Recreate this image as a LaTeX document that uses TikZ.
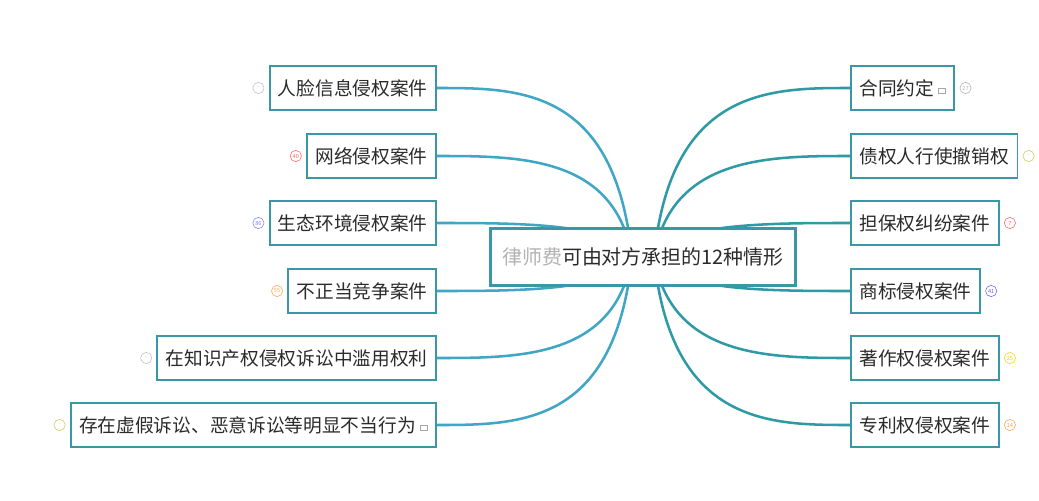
\documentclass[tikz,border=0pt]{standalone}
\usepackage{fontspec}
\setmainfont{Noto Sans CJK SC}
\usetikzlibrary{positioning}

\definecolor{boxc}{HTML}{3A97A6}
\definecolor{lline}{HTML}{3FA6C6}
\definecolor{rline}{HTML}{2E9AA6}
\definecolor{txt}{HTML}{2B2B2B}

\tikzset{
  topic/.style={draw=boxc, line width=1.4pt, fill=white, text=txt, font=\fontsize{13.3}{15}\selectfont,
    minimum height=31pt, inner xsep=6pt},
  center/.style={topic, line width=2.2pt, minimum height=41pt, inner xsep=8pt, font=\fontsize{14.2}{16}\selectfont},
  badge/.style={circle, draw=#1, text=#1, inner sep=0pt, minimum size=8pt,
    font=\fontsize{4}{4}\selectfont},
  branch/.style={line width=1.8pt, #1}
}
\newcommand{\noteicon}{\tikz[baseline=-1pt]\draw[gray!70, line width=0.4pt] (0,0) rectangle (5pt,4pt);}

\begin{document}
\begin{tikzpicture}[x=0.025cm, y=-0.025cm]
\useasboundingbox (0,0) rectangle (1039,500);
\fill[white] (0,0) rectangle (1039,500);

% branches
\foreach \y in {88,156,223,291,358,425}
  \draw[branch=lline] (632,257) .. controls (615,\y) and (520,\y) .. (437,\y);
\foreach \y in {88,156,223,291,358,425}
  \draw[branch=rline] (654,257) .. controls (671,\y) and (770,\y) .. (850,\y);

\node[center] (root) at (643,257) {{\color{gray!60}律师费}可由对方承担的12种情形};

% left side
\node[topic, anchor=east] (l1) at (437,88) {人脸信息侵权案件};
\node[topic, anchor=east] (l2) at (437,156) {网络侵权案件};
\node[topic, anchor=east] (l3) at (437,223) {生态环境侵权案件};
\node[topic, anchor=east] (l4) at (437,291) {不正当竞争案件};
\node[topic, anchor=east] (l5) at (437,358) {在知识产权侵权诉讼中滥用权利};
\node[topic, anchor=east] (l6) at (437,425) {存在虚假诉讼、恶意诉讼等明显不当行为 \noteicon};
\node[badge=gray!50, left=3pt of l1] (b1) {-};
\node[badge=red!60, left=3pt of l2] (b2) {40};
\node[badge=blue!50, left=3pt of l3] (b3) {86};
\node[badge=orange!70, left=3pt of l4] (b4) {55};
\node[badge=gray!50, left=3pt of l5] (b5) {-};
\node[badge=yellow!60!gray, left=3pt of l6] (b6) {-};

% right side
\node[topic, anchor=west] (r1) at (850,88) {合同约定 \noteicon};
\node[topic, anchor=west] (r2) at (850,156) {债权人行使撤销权};
\node[topic, anchor=west] (r3) at (850,223) {担保权纠纷案件};
\node[topic, anchor=west] (r4) at (850,291) {商标侵权案件};
\node[topic, anchor=west] (r5) at (850,358) {著作权侵权案件};
\node[topic, anchor=west] (r6) at (850,425) {专利权侵权案件};
\node[badge=gray!60, right=3pt of r1] (c1) {27};
\node[badge=yellow!60!gray, right=3pt of r2] (c2) {-};
\node[badge=red!60, right=3pt of r3] (c3) {7};
\node[badge=blue!60, right=3pt of r4] (c4) {41};
\node[badge=yellow!70!orange, right=3pt of r5] (c5) {25};
\node[badge=orange!70, right=3pt of r6] (c6) {14};
\end{tikzpicture}
\end{document}
